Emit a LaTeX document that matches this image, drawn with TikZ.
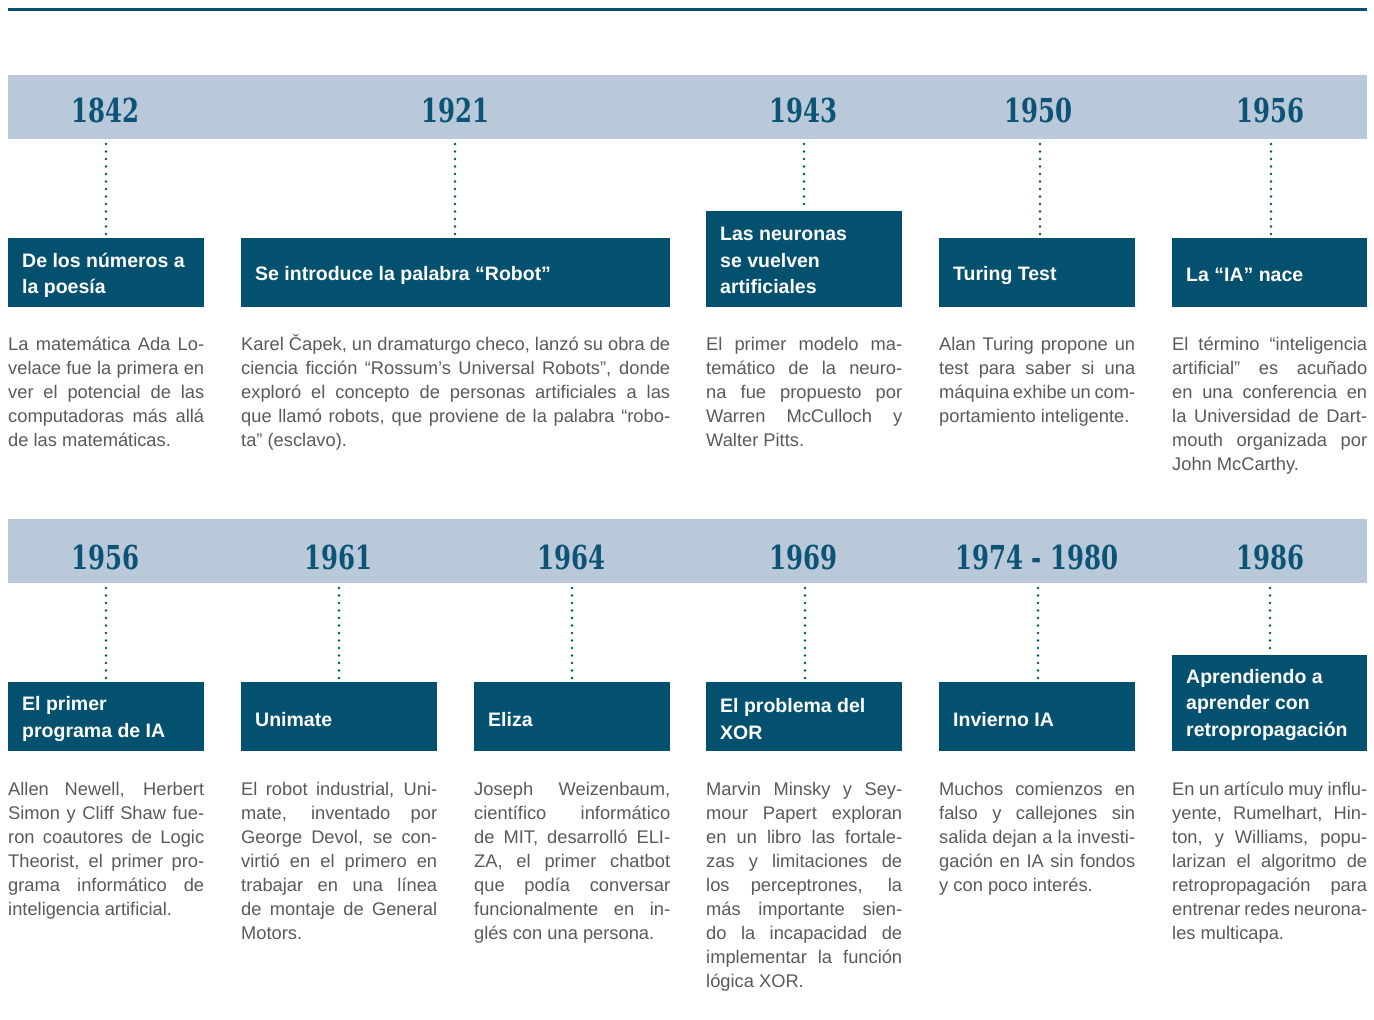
\documentclass[tikz,border=0pt]{standalone}
\usepackage{fontspec}
\setmainfont{Liberation Sans}
\newfontfamily\yearfont[FakeStretch=0.74]{DejaVu Serif}
\definecolor{boxc}{HTML}{03516F}
\definecolor{bandc}{HTML}{BAC9DA}
\definecolor{yearc}{HTML}{0B5475}
\definecolor{bodyc}{HTML}{5A5A5A}
\newcommand\bodyset{\tolerance=10000\relax\hyphenpenalty=10000\relax}
\tikzset{
  band/.style={fill=bandc, draw=none},
  yearlbl/.style={font=\yearfont\bfseries\fontsize{33}{33}\selectfont, text=yearc, inner sep=0pt, anchor=center},
  headbox/.style={fill=boxc, draw=none, inner sep=0pt, anchor=north west},
  headtxt/.style={text=white, font=\bfseries\fontsize{19.5}{26.5}\selectfont, align=left, inner sep=0pt, anchor=west},
  bodytxt/.style={text=bodyc, font=\fontsize{18.3}{24}\selectfont, execute at begin node=\bodyset, align=justify, inner sep=0pt, anchor=base west},
  dotline/.style={draw=boxc, line width=2.8pt, line cap=round, dash pattern=on 0pt off 7.5pt}
}
\begin{document}
\begin{tikzpicture}[x=1pt,y=-1pt]
\useasboundingbox (0,0) rectangle (1374,1020);
\fill[white] (0,0) rectangle (1374,1020);
% top rule
\coordinate (ruleL) at (8,9.5);
\coordinate (ruleR) at (1367,9.5);
\draw[boxc, line width=3.5pt] (ruleL) -- (ruleR);
% bands
\fill[band] (8,75) rectangle (1367,139);
\fill[band] (8,519) rectangle (1367,583);

% ---------- Row 1 ----------
\node[yearlbl] (y1) at (105,110) {1842};
\node[yearlbl] (y2) at (455,110) {1921};
\node[yearlbl] (y3) at (803,110) {1943};
\node[yearlbl] (y4) at (1038,110) {1950};
\node[yearlbl] (y5) at (1270,110) {1956};

\node[headbox, minimum width=196pt, minimum height=69pt] (b1) at (8,238) {};
\node[headbox, minimum width=429pt, minimum height=69pt] (b2) at (241,238) {};
\node[headbox, minimum width=196pt, minimum height=96pt] (b3) at (706,211) {};
\node[headbox, minimum width=196pt, minimum height=69pt] (b4) at (939,238) {};
\node[headbox, minimum width=195pt, minimum height=69pt] (b5) at (1172,238) {};
\node[headtxt] (h1) at ([xshift=14pt,yshift=-2.5pt]b1.west) {De los números a\\la poesía};
\node[headtxt] (h2) at ([xshift=14pt,yshift=-2.5pt]b2.west) {Se introduce la palabra “Robot”};
\node[headtxt] (h3) at ([xshift=14pt,yshift=-1.5pt]b3.west) {Las neuronas\\se vuelven\\artificiales};
\node[headtxt] (h4) at ([xshift=14pt,yshift=-2.5pt]b4.west) {Turing Test};
\node[headtxt] (h5) at ([xshift=14pt,yshift=-2.5pt]b5.west) {La “IA” nace};

\coordinate (d1) at (106,144);
\coordinate (d2) at (455,144);
\coordinate (d3) at (804,144);
\coordinate (d4) at (1040,144);
\coordinate (d5) at (1271,144);
\draw[dotline] (d1) -- (d1 |- b1.north);
\draw[dotline] (d2) -- (d2 |- b2.north);
\draw[dotline] (d3) -- (d3 |- b3.north);
\draw[dotline] (d4) -- (d4 |- b4.north);
\draw[dotline] (d5) -- (d5 |- b5.north);

\node[bodytxt, text width=196pt] (t1) at (8,350) {La matemática Ada Lo-\linebreak velace fue la primera en\linebreak ver el potencial de las\linebreak computadoras más allá\linebreak de las matemáticas.};
\node[bodytxt, text width=429pt] (t2) at (241,350) {Karel Čapek, un dramaturgo checo, lanzó su obra de\linebreak ciencia ficción “Rossum’s Universal Robots”, donde\linebreak exploró el concepto de personas artificiales a las\linebreak que llamó robots, que proviene de la palabra “robo-\linebreak ta” (esclavo).};
\node[bodytxt, text width=196pt] (t3) at (706,350) {El primer modelo ma-\linebreak temático de la neuro-\linebreak na fue propuesto por\linebreak Warren McCulloch y\linebreak Walter Pitts.};
\node[bodytxt, text width=196pt] (t4) at (939,350) {Alan Turing propone un\linebreak test para saber si una\linebreak máquina exhibe un com-\linebreak portamiento inteligente.};
\node[bodytxt, text width=195pt] (t5) at (1172,350) {El término “inteligencia\linebreak artificial” es acuñado\linebreak en una conferencia en\linebreak la Universidad de Dart-\linebreak mouth organizada por\linebreak John McCarthy.};

% ---------- Row 2 ----------
\node[yearlbl] (z1) at (105,557) {1956};
\node[yearlbl] (z2) at (338,557) {1961};
\node[yearlbl] (z3) at (571,557) {1964};
\node[yearlbl] (z4) at (803,557) {1969};
\node[yearlbl] (z5) at (1037,557) {1974 - 1980};
\node[yearlbl] (z6) at (1270,557) {1986};

\node[headbox, minimum width=196pt, minimum height=69pt] (c1) at (8,682) {};
\node[headbox, minimum width=196pt, minimum height=69pt] (c2) at (241,682) {};
\node[headbox, minimum width=196pt, minimum height=69pt] (c3) at (474,682) {};
\node[headbox, minimum width=196pt, minimum height=69pt] (c4) at (706,682) {};
\node[headbox, minimum width=196pt, minimum height=69pt] (c5) at (939,682) {};
\node[headbox, minimum width=195pt, minimum height=96pt] (c6) at (1172,655) {};
\node[headtxt] (k1) at ([xshift=14pt,yshift=-2.5pt]c1.west) {El primer\\programa de IA};
\node[headtxt] (k2) at ([xshift=14pt,yshift=-2.5pt]c2.west) {Unimate};
\node[headtxt] (k3) at ([xshift=14pt,yshift=-2.5pt]c3.west) {Eliza};
\node[headtxt] (k4) at ([xshift=14pt,yshift=-2.5pt]c4.west) {El problema del\\XOR};
\node[headtxt] (k5) at ([xshift=14pt,yshift=-2.5pt]c5.west) {Invierno IA};
\node[headtxt] (k6) at ([xshift=14pt,yshift=-1.5pt]c6.west) {Aprendiendo a\\aprender con\\retropropagación};

\coordinate (e1) at (106,588);
\coordinate (e2) at (339,588);
\coordinate (e3) at (572,588);
\coordinate (e4) at (805,588);
\coordinate (e5) at (1038,588);
\coordinate (e6) at (1270,588);
\draw[dotline] (e1) -- (e1 |- c1.north);
\draw[dotline] (e2) -- (e2 |- c2.north);
\draw[dotline] (e3) -- (e3 |- c3.north);
\draw[dotline] (e4) -- (e4 |- c4.north);
\draw[dotline] (e5) -- (e5 |- c5.north);
\draw[dotline] (e6) -- (e6 |- c6.north);

\node[bodytxt, text width=196pt] (u1) at (8,795) {Allen Newell, Herbert\linebreak Simon y Cliff Shaw fue-\linebreak ron coautores de Logic\linebreak Theorist, el primer pro-\linebreak grama informático de\linebreak inteligencia artificial.};
\node[bodytxt, text width=196pt] (u2) at (241,795) {El robot industrial, Uni-\linebreak mate, inventado por\linebreak George Devol, se con-\linebreak virtió en el primero en\linebreak trabajar en una línea\linebreak de montaje de General\linebreak Motors.};
\node[bodytxt, text width=196pt] (u3) at (474,795) {Joseph Weizenbaum,\linebreak científico informático\linebreak de MIT, desarrolló ELI-\linebreak ZA, el primer chatbot\linebreak que podía conversar\linebreak funcionalmente en in-\linebreak glés con una persona.};
\node[bodytxt, text width=196pt] (u4) at (706,795) {Marvin Minsky y Sey-\linebreak mour Papert exploran\linebreak en un libro las fortale-\linebreak zas y limitaciones de\linebreak los perceptrones, la\linebreak más importante sien-\linebreak do la incapacidad de\linebreak implementar la función\linebreak lógica XOR.};
\node[bodytxt, text width=196pt] (u5) at (939,795) {Muchos comienzos en\linebreak falso y callejones sin\linebreak salida dejan a la investi-\linebreak gación en IA sin fondos\linebreak y con poco interés.};
\node[bodytxt, text width=195pt] (u6) at (1172,795) {En un artículo muy influ-\linebreak yente, Rumelhart, Hin-\linebreak ton, y Williams, popu-\linebreak larizan el algoritmo de\linebreak retropropagación para\linebreak entrenar redes neurona-\linebreak les multicapa.};
\end{tikzpicture}
\end{document}
